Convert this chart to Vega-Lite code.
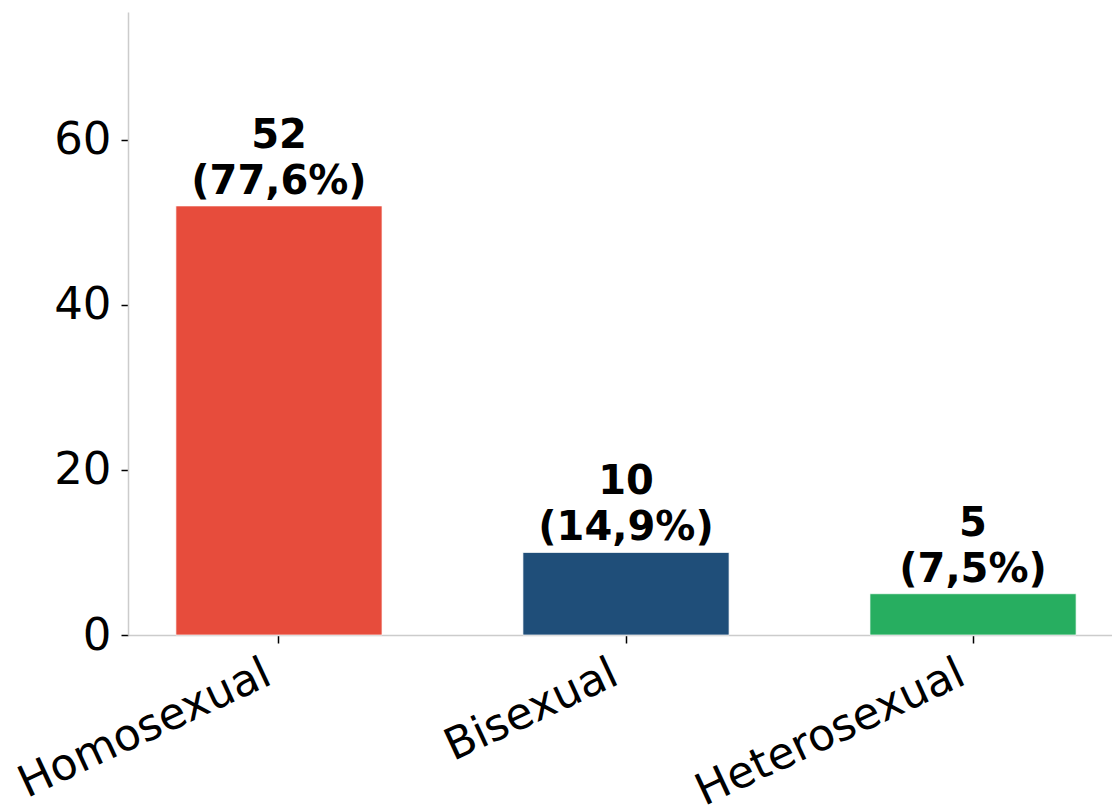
{
  "$schema": "https://vega.github.io/schema/vega-lite/v6.json",
  "autosize": "none",
  "padding": {"left": 128, "top": 12, "right": 0, "bottom": 176},
  "width": 996,
  "height": 623,
  "background": "white",
  "config": {
    "view": {"stroke": null},
    "font": "DejaVu Sans"
  },
  "data": {
    "values": [
      {"category": "Homosexual", "count": 52, "label": "52\n(77,6%)"},
      {"category": "Bisexual", "count": 10, "label": "10\n(14,9%)"},
      {"category": "Heterosexual", "count": 5, "label": "5\n(7,5%)"}
    ]
  },
  "encoding": {
    "x": {
      "field": "category",
      "type": "nominal",
      "sort": null,
      "scale": {"paddingInner": 0.406, "paddingOuter": 0.138},
      "axis": {
        "title": null,
        "labelAngle": -25,
        "labelAlign": "right",
        "labelBaseline": "top",
        "labelFontSize": 44,
        "labelColor": "black",
        "labelPadding": 8,
        "labelOffset": -20,
        "labelLimit": 0,
        "labelFont": "DejaVu Sans",
        "tickColor": "black",
        "tickSize": 8,
        "tickWidth": 1.5,
        "domainColor": "#cccccc",
        "domainWidth": 1.5,
        "grid": false
      }
    },
    "y": {
      "field": "count",
      "type": "quantitative",
      "scale": {"domain": [0, 75.5], "nice": false},
      "axis": {
        "title": null,
        "values": [0, 20, 40, 60],
        "labelFontSize": 45,
        "labelColor": "black",
        "labelPadding": 10,
        "labelFont": "DejaVu Sans",
        "tickColor": "black",
        "tickSize": 7,
        "tickWidth": 1.5,
        "domainColor": "#cccccc",
        "domainWidth": 1.5,
        "grid": false
      }
    }
  },
  "layer": [
    {
      "mark": {"type": "bar", "stroke": "white", "strokeWidth": 1, "strokeOpacity": 0.7},
      "encoding": {
        "color": {
          "field": "category",
          "type": "nominal",
          "scale": {
            "domain": ["Homosexual", "Bisexual", "Heterosexual"],
            "range": ["#E74C3C", "#1F4E79", "#27AE60"]
          },
          "legend": null
        }
      }
    },
    {
      "mark": {
        "type": "text",
        "lineBreak": "\n",
        "fontSize": 40,
        "fontWeight": "bold",
        "font": "DejaVu Sans",
        "color": "black",
        "baseline": "bottom",
        "align": "center",
        "lineHeight": 46,
        "dy": -50
      },
      "encoding": {
        "text": {"field": "label"}
      }
    }
  ]
}
